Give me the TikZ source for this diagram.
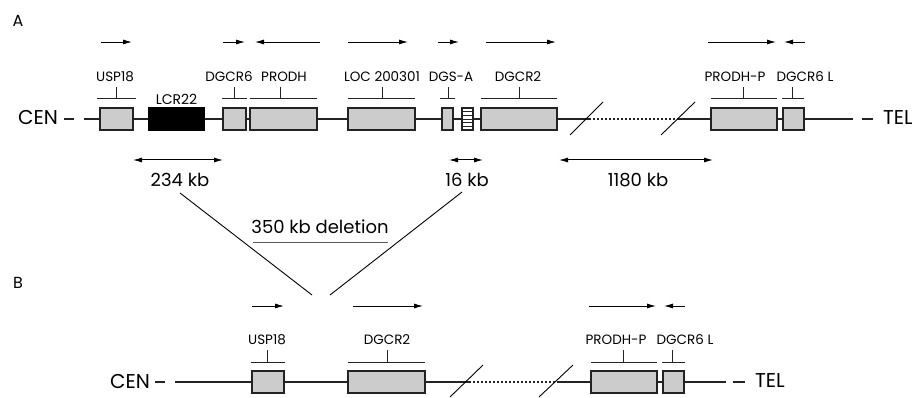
\documentclass[tikz,border=0pt]{standalone}
\usepackage{fontspec}
\setmainfont{Poppins}
\usetikzlibrary{arrows.meta, positioning, calc}
\definecolor{genegray}{RGB}{204, 204, 204}
\definecolor{inkdark}{RGB}{35, 35, 35}
\definecolor{rulegray}{RGB}{90, 90, 90}

\tikzset{
  genebox/.style={draw=inkdark, line width=1.1pt, fill=genegray,
                  minimum height=22pt, inner sep=0pt},
  chrom/.style={line width=1.3pt, inkdark},
  gapline/.style={line width=1.3pt, inkdark, dash pattern=on 2pt off 2pt},
  bracket/.style={line width=0.8pt, inkdark},
  dirarrow/.style={line width=0.9pt, -{Latex[length=9pt, width=5pt]}},
  spanarrow/.style={line width=1pt,
                    {Latex[length=9pt, width=5pt]}-{Latex[length=9pt, width=5pt]}},
  genelabel/.style={font=\fontsize{13.5}{14}\selectfont, inner sep=0pt},
  endlabel/.style={font=\fontsize{20}{20}\selectfont, inner sep=0pt},
  kblabel/.style={font=\fontsize{18}{18}\selectfont, inner sep=0pt},
}

\begin{document}
\begin{tikzpicture}[x=1pt, y=-1pt]
    \useasboundingbox (0,0) rectangle (912,398);

    % Panel letters
    \node[font=\fontsize{16}{16}\selectfont] (panelA) at (18,21) {A};
    \node[font=\fontsize{16}{16}\selectfont] (panelB) at (18,283) {B};

    % Row A: gene boxes
    \foreach \name/\xa/\xb in {uspA/100/133, dgcrsixA/223/246, prodhA/250/317,
        locA/348/415, dgsA/442/453, dgcrtwoA/481/557, prodhpA/711/777, dgcrlA/783/804}{
      \pgfmathsetmacro{\boxw}{\xb-\xa}
      \pgfmathsetmacro{\boxc}{(\xa+\xb)/2}
      \node[genebox, minimum width=\boxw pt] (\name) at (\boxc,119) {};
    }
    \node[genebox, fill=black, draw=black, minimum width=55pt] (lcrA) at (176.5,119) {};
    \node[genelabel, font=\fontsize{14}{14}\selectfont] (lcrlabel) at (176.5,99) {LCR22};
    \node[genebox, fill=white, minimum width=11pt] (stripeA) at (467.5,119) {};
    \foreach \k in {1,...,5}{
      \draw[line width=0.7pt, inkdark] ($(stripeA.north west)!\k/6!(stripeA.south west)$)
        -- ($(stripeA.north east)!\k/6!(stripeA.south east)$);
    }

    % Row A: chromosome line
    \node[endlabel] (cenA) at (38,118) {CEN};
    \node[endlabel] (telA) at (898,118) {TEL};
    \coordinate (dashAa) at (64,119);
    \coordinate (dashAb) at (74,119);
    \coordinate (startA) at (84,119);
    \coordinate (endA) at (853,119);
    \coordinate (dashAc) at (862,119);
    \coordinate (dashAd) at (873,119);
    \coordinate (breakAa) at (589,119);
    \coordinate (breakAb) at (677,119);
    \draw[chrom] (dashAa) -- (dashAb);
    \draw[chrom] (dashAc) -- (dashAd);
    \draw[chrom] (startA) -- (uspA.west);
    \foreach \a/\b in {uspA/lcrA, lcrA/dgcrsixA, dgcrsixA/prodhA, prodhA/locA,
        locA/dgsA, dgsA/stripeA, stripeA/dgcrtwoA, prodhpA/dgcrlA}{
      \draw[chrom] (\a.east) -- (\b.west);
    }
    \draw[chrom] (dgcrtwoA.east) -- (breakAa);
    \draw[gapline] (breakAa) -- (breakAb);
    \draw[chrom] (breakAb) -- (prodhpA.west);
    \draw[chrom] (dgcrlA.east) -- (endA);
    \draw[line width=0.9pt] (570,135) -- (603,102);
    \draw[line width=0.9pt] (661,135) -- (695,102);

    % Row A: brackets and gene names
    \foreach \name/\xa/\xb/\tx/\lx/\txt in {uspA/97/136/116/115/USP18,
        dgcrsixA/222/247/234/229/DGCR6, prodhA/250/317/280/284/PRODH,
        locA/348/415/382/382/LOC 200301, dgsA/440/455/448/451/DGS-A,
        dgcrtwoA/481/557/519/518/DGCR2, prodhpA/711/777/743/735/PRODH-P,
        dgcrlA/782/804/792/805/DGCR6 L}{
      \draw[bracket] (\xa,98) -- (\xb,98);
      \draw[bracket] (\tx,98) -- (\tx,87);
      \node[genelabel] (\name-name) at (\lx,77) {\txt};
    }

    % Row A: transcription direction
    \foreach \xa/\xb in {101/132, 223/245, 320/255, 348/408,
        438/459, 486/556, 708/776, 805/784}{
      \draw[dirarrow] (\xa,42) -- (\xb,42);
    }

    % Distances
    \foreach \name/\xa/\xb/\lx/\txt in {kbA/133/223/180/234 kb,
        kbB/449/483/467/16 kb, kbC/559/713/638/1180 kb}{
      \coordinate (\name-l) at (\xa,160);
      \coordinate (\name-r) at (\xb,160);
      \draw[spanarrow] (\name-l) -- (\name-r);
      \node[kblabel] (\name) at (\lx,180) {\txt};
    }

    % Deletion
    \coordinate (delL) at (312,295);
    \coordinate (delR) at (330,295);
    \draw[line width=0.9pt] (180,193) -- (delL);
    \draw[line width=0.9pt] (462,192) -- (delR);
    \node[kblabel] (deletion) at (320,227) {350 kb deletion};
    \draw[line width=0.9pt, rulegray] (253,242) -- (388,242);

    % Row B: gene boxes
    \foreach \name/\xa/\xb in {uspB/252/284, dgcrtwoB/348/425,
        prodhpB/591/657, dgcrlB/663/684}{
      \pgfmathsetmacro{\boxw}{\xb-\xa}
      \pgfmathsetmacro{\boxc}{(\xa+\xb)/2}
      \node[genebox, minimum width=\boxw pt] (\name) at (\boxc,382) {};
    }

    % Row B: chromosome line
    \node[endlabel] (cenB) at (130,381) {CEN};
    \node[endlabel] (telB) at (770,381) {TEL};
    \coordinate (dashBa) at (155,382);
    \coordinate (dashBb) at (165,382);
    \coordinate (startB) at (175,382);
    \coordinate (endB) at (726,382);
    \coordinate (dashBc) at (733,382);
    \coordinate (dashBd) at (745,382);
    \coordinate (breakBa) at (469,382);
    \coordinate (breakBb) at (557,382);
    \draw[chrom] (dashBa) -- (dashBb);
    \draw[chrom] (dashBc) -- (dashBd);
    \draw[chrom] (startB) -- (uspB.west);
    \draw[chrom] (uspB.east) -- (dgcrtwoB.west);
    \draw[chrom] (dgcrtwoB.east) -- (breakBa);
    \draw[gapline] (breakBa) -- (breakBb);
    \draw[chrom] (breakBb) -- (prodhpB.west);
    \draw[chrom] (prodhpB.east) -- (dgcrlB.west);
    \draw[chrom] (dgcrlB.east) -- (endB);
    \draw[line width=0.9pt] (450,397) -- (483,365);
    \draw[line width=0.9pt] (539,397) -- (573,365);

    % Row B: brackets and gene names
    \foreach \name/\xa/\xb/\tx/\lx/\txt in {uspB/251/285/267/267/USP18,
        dgcrtwoB/348/425/387/387/DGCR2, prodhpB/591/657/623/616/PRODH-P,
        dgcrlB/662/685/672/685/DGCR6 L}{
      \draw[bracket] (\xa,362) -- (\xb,362);
      \draw[bracket] (\tx,362) -- (\tx,350);
      \node[genelabel] (\name-name) at (\lx,340) {\txt};
    }

    % Row B: transcription direction
    \foreach \xa/\xb in {252/284, 353/423, 589/656, 685/664}{
      \draw[dirarrow] (\xa,306) -- (\xb,306);
    }
\end{tikzpicture}
\end{document}
